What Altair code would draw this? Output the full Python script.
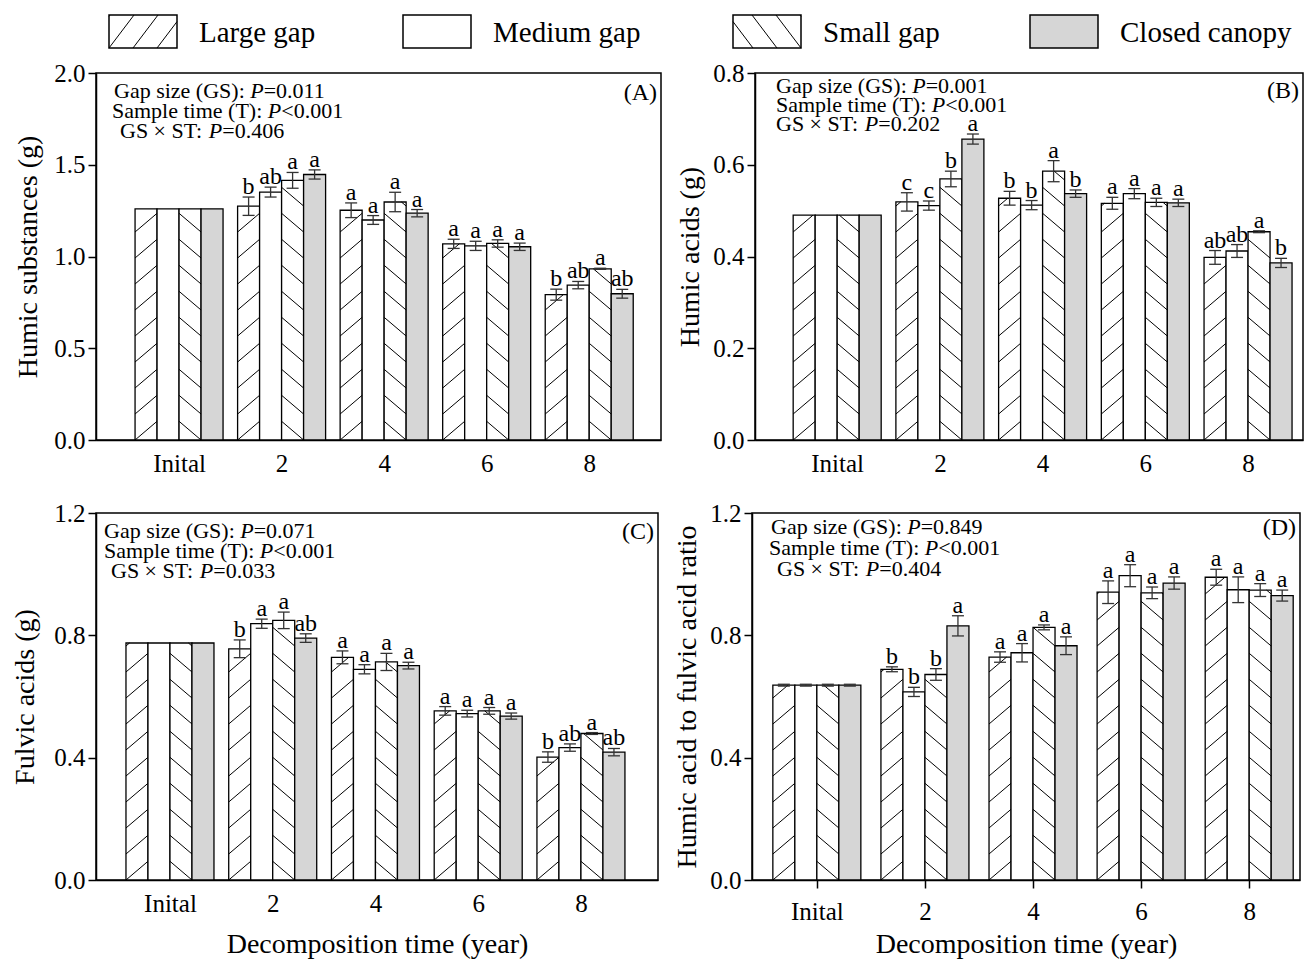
import math
import altair as alt
import pandas as pd

FONT = "Liberation Serif"

GROUPS = ["Inital", "2", "4", "6", "8"]
SERIES = ["Large gap", "Medium gap", "Small gap", "Closed canopy"]
HATCH = ["/", "", "\\", ""]
FILLS = ["white", "white", "white", "#d6d6d6"]
PREFIXES = ["Gap size (GS):", "Sample time (T):", "GS \u00d7 ST:"]
PREFIX_EM = [6.193, 7.083, 4.037]   # Times/Liberation Serif advance widths (em), incl. trailing space
P_ITALIC_EM = 0.611

# ---- Panel A: humic substances (g); rows follow SERIES, columns follow GROUPS
hs_mean = [[1.26, 1.274, 1.252, 1.069, 0.792],
           [1.26, 1.351, 1.199, 1.058, 0.844],
           [1.26, 1.415, 1.297, 1.071, 0.933],
           [1.26, 1.447, 1.236, 1.053, 0.797]]
hs_err = [[0, 0.050, 0.040, 0.025, 0.030],
          [0, 0.027, 0.024, 0.025, 0.020],
          [0, 0.043, 0.053, 0.020, 0.003],
          [0, 0.025, 0.020, 0.020, 0.024]]
hs_lett = [["", "b", "a", "a", "b"],
           ["", "ab", "a", "a", "ab"],
           ["", "a", "a", "a", "a"],
           ["", "a", "a", "a", "ab"]]
hs_p = ["=0.011", "<0.001", "=0.406"]

# ---- Panel B: humic acids (g)
ha_mean = [[0.490, 0.519, 0.527, 0.516, 0.398],
           [0.490, 0.511, 0.512, 0.537, 0.412],
           [0.490, 0.569, 0.586, 0.518, 0.454],
           [0.490, 0.656, 0.537, 0.517, 0.386]]
ha_err = [[0, 0.020, 0.015, 0.013, 0.015],
          [0, 0.010, 0.010, 0.011, 0.014],
          [0, 0.017, 0.023, 0.009, 0.002],
          [0, 0.011, 0.008, 0.008, 0.010]]
ha_lett = [["", "c", "b", "a", "ab"],
           ["", "c", "b", "a", "ab"],
           ["", "b", "a", "a", "a"],
           ["", "a", "b", "a", "b"]]
ha_p = ["=0.001", "<0.001", "=0.202"]

# ---- Panel C: fulvic acids (g)
fa_mean = [[0.775, 0.756, 0.728, 0.553, 0.402],
           [0.775, 0.838, 0.689, 0.544, 0.433],
           [0.775, 0.849, 0.713, 0.553, 0.479],
           [0.775, 0.791, 0.701, 0.536, 0.418]]
fa_err = [[0, 0.029, 0.021, 0.014, 0.017],
          [0, 0.015, 0.015, 0.011, 0.012],
          [0, 0.027, 0.028, 0.011, 0.003],
          [0, 0.014, 0.011, 0.010, 0.012]]
fa_lett = [["", "b", "a", "a", "b"],
           ["", "a", "a", "a", "ab"],
           ["", "a", "a", "a", "a"],
           ["", "ab", "a", "a", "ab"]]
fa_p = ["=0.071", "<0.001", "=0.033"]

# ---- Panel D: humic acid to fulvic acid ratio
ratio_mean = [[0.637, 0.689, 0.729, 0.941, 0.990],
              [0.637, 0.615, 0.743, 0.995, 0.949],
              [0.637, 0.672, 0.826, 0.939, 0.948],
              [0.637, 0.831, 0.766, 0.971, 0.930]]
ratio_err = [[0.003, 0.008, 0.017, 0.037, 0.026],
             [0.003, 0.015, 0.030, 0.036, 0.042],
             [0.003, 0.019, 0.008, 0.019, 0.021],
             [0.003, 0.033, 0.029, 0.020, 0.018]]
ratio_lett = [["", "b", "a", "a", "a"],
              ["", "b", "a", "a", "a"],
              ["", "b", "a", "a", "a"],
              ["", "a", "a", "a", "a"]]
ratio_p = ["=0.849", "<0.001", "=0.404"]

BAR_PX = 22
CAP_PX = 6
BAR_SLOPE = 0.85
BAR_GAP = 26
LEG_W, LEG_H = 68, 33
LEG_TOP = -58
LEG_SLOPE = 1.32
LEG_GAP = 31.7

LABEL_EXPR = "[" + ",".join("'%s'" % g for g in GROUPS) + "][datum.value]"


def hatch_px(w, h, slope, gap, direction):
    """Hatch segments inside a w x h box (origin bottom-left, y up)."""
    segs = []
    if direction == "" or h <= 0:
        return segs
    dxs = gap / slope
    kmin = int(math.floor(-(h / slope) / dxs)) - 1
    kmax = int(math.ceil(w / dxs)) + 1
    for k in range(kmin, kmax + 1):
        c = k * dxs
        xa, xb = max(0.0, c), min(w, c + h / slope)
        if xb - xa < 0.5:
            continue
        ya, yb = slope * (xa - c), slope * (xb - c)
        if direction == "/":
            segs.append((xa, ya, xb, yb))
        else:
            segs.append((w - xa, ya, w - xb, yb))
    return segs


def make_panel(cfg, means, errs, letters, pvals, legend):
    W, H = cfg["w"], cfg["h"]
    xmin, xmax, ymax = cfg["xmin"], cfg["xmax"], cfg["ymax"]
    ppx = W / (xmax - xmin)
    ppy = H / ymax
    bw = BAR_PX / ppx
    cap = CAP_PX / ppx

    def dx(px):   # pixel offset from plot left -> x data
        return xmin + px / ppx

    def dy(py):   # pixel offset from plot top -> y data
        return ymax - py / ppy

    xs = alt.Scale(domain=[xmin, xmax], nice=False, zero=False)
    ys = alt.Scale(domain=[0, ymax], nice=False, zero=False)
    xaxis = alt.Axis(values=list(range(len(GROUPS))), labelExpr=LABEL_EXPR,
                     title=cfg["xtitle"], ticks=cfg["xticks"],
                     tickSize=8 if cfg["xticks"] else 0, labelPadding=11,
                     labelFontSize=25, titleFontSize=28, titlePadding=cfg["xtp"],
                     grid=False, labelFlush=False)
    yaxis = alt.Axis(values=cfg["yticks"], format=".1f", title=cfg["ytitle"],
                     tickSize=8, labelPadding=3, labelFontSize=25,
                     titleFontSize=28, titlePadding=cfg["ytp"], grid=False)

    def X(f):
        return alt.X(f, type="quantitative", scale=xs, axis=xaxis)

    def Y(f):
        return alt.Y(f, type="quantitative", scale=ys, axis=yaxis, stack=None)

    bars, hatch = [], []
    for s, name in enumerate(SERIES):
        for g, grp in enumerate(GROUPS):
            m = means[s][g]
            e = errs[s][g]
            xl = g + (s - 2) * bw
            xc = xl + bw / 2
            bars.append(dict(series=name, group=grp, xl=xl, xr=xl + bw, xc=xc,
                             cl=xc - cap, cr=xc + cap, m=m, zero=0.0, lo=m - e, hi=m + e,
                             err=e, lab=letters[s][g], fill=FILLS[s]))
            for (xa, ya, xb, yb) in hatch_px(BAR_PX, m * ppy, BAR_SLOPE, BAR_GAP, HATCH[s]):
                hatch.append(dict(x1=xl + xa / ppx, y1=ya / ppy, x2=xl + xb / ppx, y2=yb / ppy))
    bars_df = pd.DataFrame(bars)
    hatch_df = pd.DataFrame(hatch)

    bar_layer = alt.Chart(bars_df).mark_bar(stroke="black", strokeWidth=1.3).encode(
        x=X("xl"), x2="xr:Q", y=Y("m"), y2="zero:Q",
        fill=alt.Fill("fill:N", scale=None),
    )
    hatch_layer = alt.Chart(hatch_df).mark_rule(color="black", strokeWidth=1).encode(
        x=X("x1"), x2="x2:Q", y=Y("y1"), y2="y2:Q")
    eb = alt.Chart(bars_df).transform_filter("datum.err > 0")
    err_layer = eb.mark_rule(color="#333333", strokeWidth=1.3).encode(
        x=X("xc"), y=Y("lo"), y2="hi:Q")
    cap_hi = eb.mark_rule(color="#333333", strokeWidth=1.3).encode(
        x=X("cl"), x2="cr:Q", y=Y("hi"))
    cap_lo = eb.mark_rule(color="#333333", strokeWidth=1.3).encode(
        x=X("cl"), x2="cr:Q", y=Y("lo"))
    lett_layer = alt.Chart(bars_df).transform_filter("datum.lab != ''").mark_text(
        font=FONT, fontSize=24, baseline="alphabetic", dy=-3, color="black"
    ).encode(x=X("xc"), y=Y("hi"), text="lab:N")

    # statistics annotation (positions given in pixels inside the plot)
    fs = 22
    ann = []
    for i in range(3):
        x0 = cfg["ann_x"][i]
        y0 = cfg["ann_y"][i]
        px = x0 + PREFIX_EM[i] * fs
        ann.append(dict(t=PREFIXES[i], ax=dx(x0), ay=dy(y0), it=0))
        ann.append(dict(t="P", ax=dx(px), ay=dy(y0), it=1))
        ann.append(dict(t=pvals[i], ax=dx(px + P_ITALIC_EM * fs), ay=dy(y0), it=0))
    ann_df = pd.DataFrame(ann)
    ann_norm = alt.Chart(ann_df).transform_filter("datum.it == 0").mark_text(
        font=FONT, fontSize=fs, align="left", baseline="alphabetic", color="black"
    ).encode(x=X("ax"), y=Y("ay"), text="t:N")
    ann_ital = alt.Chart(ann_df).transform_filter("datum.it == 1").mark_text(
        font=FONT, fontSize=fs, align="left", baseline="alphabetic", color="black",
        fontStyle="italic").encode(x=X("ax"), y=Y("ay"), text="t:N")
    tag_df = pd.DataFrame([dict(t=cfg["tag"], ax=dx(W - 4), ay=dy(cfg["tag_y"]))])
    tag_layer = alt.Chart(tag_df).mark_text(
        font=FONT, fontSize=24, align="right", baseline="alphabetic", color="black"
    ).encode(x=X("ax"), y=Y("ay"), text="t:N")

    layers = [bar_layer, hatch_layer, err_layer, cap_hi, cap_lo, lett_layer,
              ann_norm, ann_ital, tag_layer]

    # legend entries drawn above this panel
    if legend:
        boxes, lines, labs = [], [], []
        for (s, bx, lx) in legend:
            boxes.append(dict(bx1=dx(bx), bx2=dx(bx + LEG_W), by1=dy(LEG_TOP),
                              by2=dy(LEG_TOP + LEG_H), fill=FILLS[s]))
            for (xa, ya, xb, yb) in hatch_px(LEG_W, LEG_H, LEG_SLOPE, LEG_GAP, HATCH[s]):
                lines.append(dict(lx1=dx(bx + xa), ly1=dy(LEG_TOP + LEG_H - ya),
                                  lx2=dx(bx + xb), ly2=dy(LEG_TOP + LEG_H - yb)))
            labs.append(dict(t=SERIES[s], ax=dx(lx), ay=dy(LEG_TOP + LEG_H / 2 + 1)))
        box_layer = alt.Chart(pd.DataFrame(boxes)).mark_rect(stroke="black", strokeWidth=1.5).encode(
            x=X("bx1"), x2="bx2:Q", y=Y("by1"), y2="by2:Q",
            fill=alt.Fill("fill:N", scale=None))
        layers.append(box_layer)
        if lines:
            line_layer = alt.Chart(pd.DataFrame(lines)).mark_rule(color="black", strokeWidth=1).encode(
                x=X("lx1"), x2="lx2:Q", y=Y("ly1"), y2="ly2:Q")
            layers.append(line_layer)
        lab_layer = alt.Chart(pd.DataFrame(labs)).mark_text(
            font=FONT, fontSize=29, align="left", baseline="middle", color="black"
        ).encode(x=X("ax"), y=Y("ay"), text="t:N")
        layers.append(lab_layer)

    return alt.layer(*layers).properties(width=W, height=H)


cfg_a = dict(w=565, h=367, xmin=-0.81, xmax=4.70, ymax=2.0, yticks=[0, 0.5, 1.0, 1.5, 2.0],
             ytitle="Humic substances (g)", ytp=11, xtitle=None, xticks=False, xtp=14,
             tag="(A)", tag_y=27, ann_x=[18, 16, 24], ann_y=[25, 45, 65])
cfg_b = dict(w=548, h=367, xmin=-0.80, xmax=4.535, ymax=0.8, yticks=[0, 0.2, 0.4, 0.6, 0.8],
             ytitle="Humic acids (g)", ytp=8, xtitle=None, xticks=False, xtp=14,
             tag="(B)", tag_y=25, ann_x=[21, 21, 21], ann_y=[20, 39, 58])
cfg_c = dict(w=562, h=367, xmin=-0.72, xmax=4.75, ymax=1.2, yticks=[0, 0.4, 0.8, 1.2],
             ytitle="Fulvic acids (g)", ytp=14, xtitle="Decomposition time (year)",
             xticks=False, xtp=14, tag="(C)", tag_y=26, ann_x=[8, 8, 15], ann_y=[25, 45, 65])
cfg_d = dict(w=548, h=367, xmin=-0.60, xmax=4.47, ymax=1.2, yticks=[0, 0.4, 0.8, 1.2],
             ytitle="Humic acid to fulvic acid ratio", ytp=8, xtitle="Decomposition time (year)",
             xticks=True, xtp=6, tag="(D)", tag_y=22, ann_x=[19, 17, 25], ann_y=[21, 42, 63])

panel_a = make_panel(cfg_a, hs_mean, hs_err, hs_lett, hs_p, [(0, 13, 103), (1, 307, 397)])
panel_b = make_panel(cfg_b, ha_mean, ha_err, ha_lett, ha_p, [(2, -22, 68), (3, 275, 365)])
panel_c = make_panel(cfg_c, fa_mean, fa_err, fa_lett, fa_p, None)
panel_d = make_panel(cfg_d, ratio_mean, ratio_err, ratio_lett, ratio_p, None)

row1 = alt.hconcat(panel_a, panel_b, spacing=14)
row2 = alt.hconcat(panel_c, panel_d, spacing=14)

chart = alt.vconcat(row1, row2, spacing=23).properties(
    padding={"left": 3, "top": 5, "right": 0, "bottom": 0}
).configure_view(
    stroke="black", strokeWidth=1.5
).configure_axis(
    domainColor="black", domainWidth=1.5, tickColor="black", tickWidth=1.5,
    labelColor="black", titleColor="black", labelFont=FONT, titleFont=FONT,
    titleFontWeight="normal", grid=False
)

chart.save("out.html", embed_options={"renderer": "svg", "actions": False})
